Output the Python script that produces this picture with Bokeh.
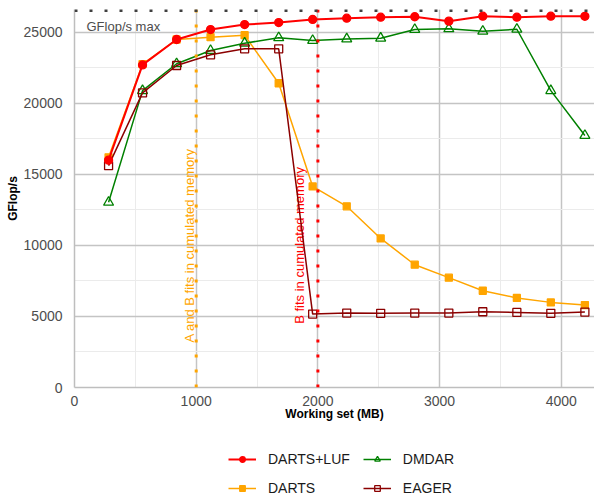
import numpy as np
from bokeh.plotting import figure
from bokeh.layouts import column
from bokeh.models import Range1d, SingleIntervalTicker, Span, Legend, LegendItem
from bokeh.core.properties import value
from bokeh.embed import file_html
from bokeh.resources import INLINE

# ---- data ----
working_set = [280, 559, 839, 1118, 1398, 1678, 1957, 2237, 2516, 2796, 3076, 3355, 3635, 3914, 4194]
darts_luf = [16000, 22700, 24490, 25190, 25540, 25680, 25900, 25990, 26060, 26090, 25780, 26130, 26060, 26130, 26120]
darts = [16200, 22750, 24490, 24650, 24790, 21410, 14150, 12750, 10490, 8640, 7730, 6810, 6300, 5990, 5800]
dmdar = [13030, 20890, 22780, 23710, 24230, 24610, 24420, 24530, 24580, 25190, 25240, 25070, 25210, 20890, 17730]
eager = [15610, 20730, 22660, 23410, 23830, 23830, 5170, 5240, 5220, 5240, 5240, 5330, 5280, 5220, 5310]

gflops_max = 26535
fit_ab = 1000
fit_b = 2000
annot_y = 10000
label_ab = "A and B fits in cumulated memory"
label_b = "B fits in cumulated memory"
label_max = "GFlop/s max"

series_names = ["DARTS+LUF", "DMDAR", "DARTS", "EAGER"]

FONT = "Liberation Sans"

p = figure(width=594, height=440, output_backend="svg", toolbar_location=None,
           x_range=Range1d(0, 4273), y_range=Range1d(0, 26600),
           min_border_left=74, min_border_right=0, min_border_top=9, min_border_bottom=53)
p.outline_line_color = None
p.background_fill_color = "white"

p.xaxis.ticker = SingleIntervalTicker(interval=1000, num_minor_ticks=2)
p.yaxis.ticker = SingleIntervalTicker(interval=5000, num_minor_ticks=2)
for ax in (p.xaxis, p.yaxis):
    ax.axis_line_color = "#bebebe"
    ax.axis_line_width = 1.5
    ax.major_tick_line_color = None
    ax.minor_tick_line_color = None
    ax.major_label_text_font = FONT
    ax.major_label_text_font_size = "14px"
    ax.major_label_text_color = "#4d4d4d"
    ax.axis_label_text_font = FONT
    ax.axis_label_text_font_size = "12px"
    ax.axis_label_text_font_style = "bold"
    ax.axis_label_text_color = "black"
p.xaxis.axis_label = "Working set (MB)"
p.yaxis.axis_label = "GFlop/s"
p.xaxis.major_label_standoff = 2
p.yaxis.major_label_standoff = 6
p.xaxis.axis_label_standoff = -2
p.yaxis.axis_label_standoff = 1

for g in (p.xgrid, p.ygrid):
    g.grid_line_color = "#c4c4c4"
    g.grid_line_width = 1.5
    g.minor_grid_line_color = "#ebebeb"
    g.minor_grid_line_width = 1

# reference lines
p.add_layout(Span(location=fit_ab, dimension="height", line_color="orange", line_width=3, line_dash="3 12"))
p.add_layout(Span(location=fit_b, dimension="height", line_color="red", line_width=3, line_dash="3 12"))
p.add_layout(Span(location=gflops_max, dimension="width", line_color="#404040", line_width=3, line_dash="3 12"))

# annotations
p.text(x=[0], y=[gflops_max], text=[label_max], x_offset=12, y_offset=16,
       text_baseline="alphabetic", text_align="left", text_color="#4d4d4d",
       text_font=value(FONT), text_font_size="13px")
p.text(x=[fit_ab], y=[annot_y], text=[label_ab], angle=np.pi / 2, x_offset=-7,
       text_align="center", text_baseline="alphabetic", text_color="orange",
       text_font=value(FONT), text_font_size="13px")
p.text(x=[fit_b], y=[annot_y], text=[label_b], angle=np.pi / 2, x_offset=-18,
       text_align="center", text_baseline="alphabetic", text_color="red",
       text_font=value(FONT), text_font_size="13px")

# series styles
styles = {
    "DARTS+LUF": dict(color="red", lw=2, marker="circle", size=8, fill="red"),
    "DMDAR": dict(color="green", lw=1.5, marker="triangle", size=10, fill=None),
    "DARTS": dict(color="orange", lw=1.5, marker="square", size=7, fill="orange"),
    "EAGER": dict(color="darkred", lw=1.5, marker="square", size=8, fill=None),
}
values = {"DARTS+LUF": darts_luf, "DMDAR": dmdar, "DARTS": darts, "EAGER": eager}

for name in ["DARTS", "DMDAR", "EAGER", "DARTS+LUF"]:
    s = styles[name]
    p.line(working_set, values[name], line_color=s["color"], line_width=s["lw"])
    p.scatter(working_set, values[name], marker=s["marker"], size=s["size"],
              fill_color=s["fill"], line_color=s["color"], line_width=1.3)

# legend strip below the plot (legend-only renderers hold a single NaN, nothing is plotted)
pl = figure(width=594, height=57, output_backend="svg", toolbar_location=None,
            x_axis_type=None, y_axis_type=None, min_border=0)
pl.outline_line_color = None
pl.xgrid.visible = False
pl.ygrid.visible = False
items = []
for name in series_names:
    s = styles[name]
    r1 = pl.line(x=[np.nan], y=[np.nan], line_color=s["color"], line_width=s["lw"])
    r2 = pl.scatter(x=[np.nan], y=[np.nan], marker=s["marker"], size=s["size"],
                    fill_color=s["fill"], line_color=s["color"], line_width=1.3)
    items.append(LegendItem(label=name, renderers=[r1, r2]))

legend = Legend(items=items, orientation="horizontal", ncols=2, location=(154, 1),
                border_line_color=None, background_fill_alpha=0, padding=0, margin=0,
                spacing=13, label_standoff=12, glyph_width=28, glyph_height=14,
                label_height=16, label_text_font=FONT,
                label_text_font_size="14px", label_text_color="#1a1a1a")
pl.add_layout(legend, "center")

layout = column(p, pl, spacing=0)
open("out.html", "w").write(file_html(layout, INLINE))
